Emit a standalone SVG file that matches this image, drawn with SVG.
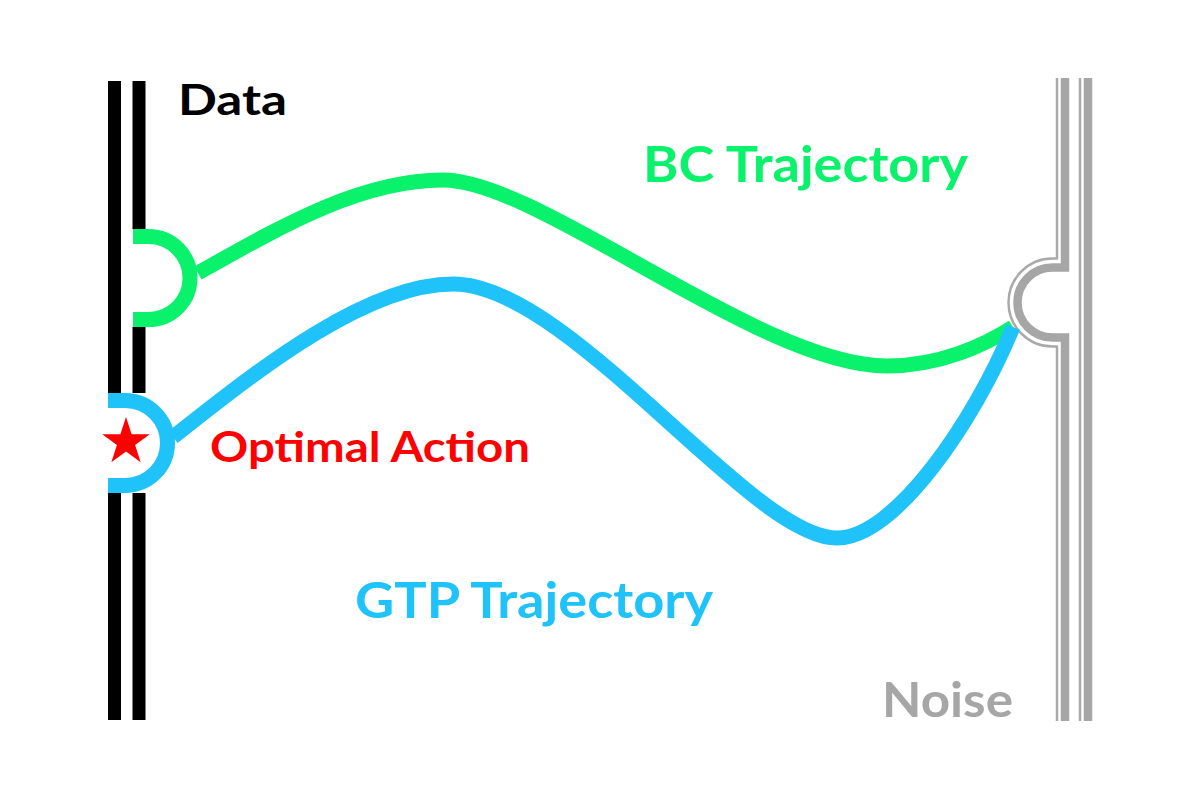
<svg xmlns="http://www.w3.org/2000/svg" width="1200" height="801" viewBox="0 0 1200 801">
<style>
.lbl{font-family:Lato,"Open Sans","Liberation Sans",sans-serif;font-weight:bold}
.rail{stroke:#000;fill:none;stroke-width:13}
.nthin{stroke:#a9a9a9;fill:none;stroke-width:2.5}
.nthick{stroke:#a6a6a6;fill:none;stroke-width:8.5}
.green{stroke:#0af26c;fill:none;stroke-width:15}
.blue{stroke:#1fc3fa;fill:none;stroke-width:15}
</style>
<rect width="1200" height="801" fill="#fff"/>
<g id="data">
<path class="rail" d="M114.5,81V393M114.5,493V720"/>
<path class="rail" stroke-width="12" d="M139,81V229M139,327V393M139,493V720"/>
<text class="lbl" x="178" y="115" font-size="42" textLength="109" lengthAdjust="spacingAndGlyphs" fill="#000">Data</text>
</g>
<g id="noise">
<path class="nthin" stroke-linejoin="round" d="M1057,78V258.5H1052.5A44,44 0 0 0 1052.5,346.5H1057V721"/>
<path class="nthick" d="M1065,78V267.5H1052.5A35,35 0 0 0 1052.5,337.5H1065V721"/>
<path class="nthin" d="M1080,78V721"/>
<path class="nthick" d="M1088,78V721"/>
<text class="lbl" x="882" y="717" font-size="47" textLength="131" lengthAdjust="spacingAndGlyphs" fill="#a6a6a6">Noise</text>
</g>
<g id="bc-start">
<path class="green" stroke-width="16" d="M133,236.5H148.5A41.5,41.5 0 0 1 148.5,319.5H133"/>
</g>
<g id="optimal">
<path class="blue" stroke-width="15.5" d="M108,400.5H125A42.5,42.5 0 0 1 125,485.5H108"/>
<polygon fill="#ff0000" points="126,417 131.61,434.27 149.78,434.27 135.08,444.95 140.69,462.23 126,451.55 111.31,462.23 116.92,444.95 102.22,434.27 120.39,434.27"/>
<text class="lbl" x="210" y="462" font-size="42" textLength="320" lengthAdjust="spacingAndGlyphs" fill="#ff0000">Optimal Action</text>
</g>
<g id="connectors">
<path id="bc-trajectory" class="green" d="M198,273C280,227 360,180 443,180C540,180 760,366 887,366C940,366 985,345 1013,327"/>
<path id="gtp-trajectory" class="blue" d="M173,437C240,385 360,284 453,284C570,284 750,538 837,538C895,538 975,420 1013,327"/>
</g>
<g id="bc-label">
<text class="lbl" x="643" y="182" font-size="49" textLength="325" lengthAdjust="spacingAndGlyphs" fill="#0af26c">BC Trajectory</text>
</g>
<g id="gtp-label">
<text class="lbl" x="355" y="618" font-size="49" textLength="358" lengthAdjust="spacingAndGlyphs" fill="#1fc3fa">GTP Trajectory</text>
</g>
</svg>
